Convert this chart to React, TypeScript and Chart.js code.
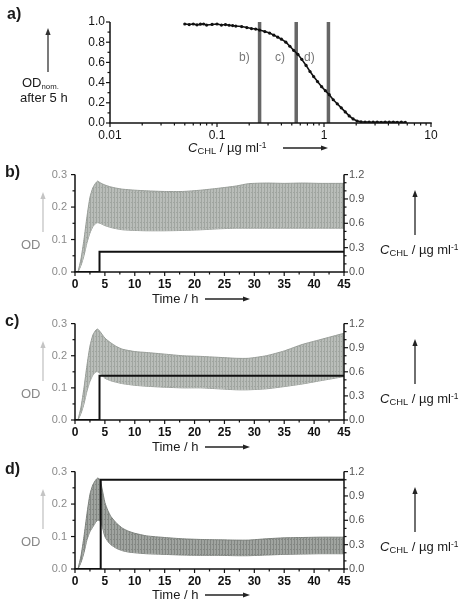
import React, { useEffect, useRef } from "react";
import { Chart, registerables } from "chart.js";
Chart.register(...registerables);

const FONT = "'Liberation Sans', Arial, sans-serif";

// ---------- Panel a data ----------
const concAxisTicks = [0.01, 0.1, 1, 10];
const concMinorTicks = [0.02, 0.03, 0.04, 0.05, 0.06, 0.07, 0.08, 0.09, 0.2, 0.3, 0.4, 0.5, 0.6, 0.7, 0.8, 0.9, 2, 3, 4, 5, 6, 7, 8, 9];
const odNormTicks = [0, 0.2, 0.4, 0.6, 0.8, 1.0];
const odNormMinor = [0.1, 0.3, 0.5, 0.7, 0.9];
const concentrations = [0.05, 0.055, 0.06, 0.065, 0.07, 0.075, 0.08, 0.09, 0.1, 0.11, 0.12, 0.13, 0.14, 0.15, 0.17, 0.19, 0.21, 0.23, 0.25, 0.28, 0.31, 0.34, 0.37, 0.4, 0.44, 0.48, 0.52, 0.57, 0.62, 0.68, 0.74, 0.8, 0.87, 0.95, 1.03, 1.12, 1.22, 1.33, 1.45, 1.58, 1.72, 1.87, 2.04, 2.22, 2.42, 2.64, 2.88, 3.14, 3.42, 3.73, 4.07, 4.44, 4.84, 5.28, 5.76];
const odNorm = [0.98, 0.975, 0.98, 0.972, 0.978, 0.98, 0.97, 0.976, 0.98, 0.97, 0.975, 0.968, 0.965, 0.96, 0.955, 0.945, 0.935, 0.93, 0.92, 0.905, 0.89, 0.87, 0.85, 0.83, 0.8, 0.76, 0.72, 0.68, 0.63, 0.57, 0.51, 0.46, 0.41, 0.36, 0.32, 0.28, 0.23, 0.19, 0.15, 0.11, 0.07, 0.04, 0.02, 0.012, 0.01, 0.01, 0.008, 0.01, 0.006, 0.01, 0.008, 0.01, 0.006, 0.008, 0.006];
const markerConcs = [0.25, 0.55, 1.1];
const markerLabels = ["b)", "c)", "d)"];

// ---------- Panels b-d data ----------
const timeTicks = [0, 5, 10, 15, 20, 25, 30, 35, 40, 45];
const timeMinor = [2.5, 7.5, 12.5, 17.5, 22.5, 27.5, 32.5, 37.5, 42.5];
const odTicks = [0, 0.1, 0.2, 0.3];
const odMinor = [0.05, 0.15, 0.25];
const chlTicks = [0, 0.3, 0.6, 0.9, 1.2];
const chlMinor = [0.1, 0.2, 0.4, 0.5, 0.7, 0.8, 1.0, 1.1];

const timesBC = [0.5, 1, 1.5, 2, 2.5, 3, 3.5, 3.8, 4.2, 5, 6, 7, 8, 10, 12, 15, 18, 21, 24, 27, 29, 32, 35, 38, 41, 45];
const odUpperB = [0, 0.04, 0.1, 0.17, 0.23, 0.26, 0.275, 0.28, 0.275, 0.268, 0.262, 0.258, 0.255, 0.252, 0.25, 0.248, 0.248, 0.252, 0.258, 0.265, 0.272, 0.274, 0.273, 0.274, 0.273, 0.273];
const odLowerB = [0, 0.02, 0.05, 0.09, 0.12, 0.14, 0.15, 0.152, 0.15, 0.143, 0.137, 0.133, 0.13, 0.128, 0.127, 0.127, 0.128, 0.13, 0.133, 0.135, 0.135, 0.135, 0.135, 0.135, 0.135, 0.135];
const odUpperC = [0, 0.04, 0.1, 0.17, 0.23, 0.265, 0.28, 0.283, 0.275, 0.255, 0.24, 0.228, 0.22, 0.213, 0.21, 0.205, 0.2, 0.198, 0.195, 0.192, 0.192, 0.2, 0.215, 0.235, 0.25, 0.27];
const odLowerC = [0, 0.02, 0.05, 0.09, 0.12, 0.14, 0.15, 0.15, 0.145, 0.13, 0.122, 0.117, 0.113, 0.108, 0.105, 0.102, 0.1, 0.1, 0.097, 0.094, 0.094, 0.097, 0.104, 0.112, 0.122, 0.135];
const timesD = [0.5, 1, 1.5, 2, 2.5, 3, 3.5, 3.8, 4.2, 4.5, 5, 5.5, 6, 7, 8, 9, 10, 12, 15, 18, 21, 24, 27, 29, 32, 35, 38, 41, 45];
const odUpperD = [0, 0.04, 0.1, 0.17, 0.23, 0.26, 0.275, 0.28, 0.275, 0.25, 0.205, 0.18, 0.162, 0.14, 0.125, 0.116, 0.11, 0.102, 0.097, 0.093, 0.091, 0.09, 0.089, 0.089, 0.093, 0.096, 0.097, 0.098, 0.098];
const odLowerD = [0, 0.02, 0.05, 0.09, 0.115, 0.13, 0.145, 0.15, 0.148, 0.135, 0.1, 0.085, 0.075, 0.063, 0.056, 0.052, 0.05, 0.047, 0.045, 0.043, 0.042, 0.042, 0.041, 0.041, 0.043, 0.045, 0.046, 0.047, 0.047];

const doseTimesB = [0, 4.1, 4.1, 45];
const doseB = [0, 0, 0.25, 0.25];
const doseTimesC = [0, 4.1, 4.1, 45];
const doseC = [0, 0, 0.55, 0.55];
const doseTimesD = [0, 4.3, 4.3, 45];
const doseD = [0, 0, 1.1, 1.1];

type TickSpec = { axis: string; side: "bottom" | "left" | "right"; major: number[]; minor: number[] };

function tickPlugin(specs: TickSpec[]) {
  return {
    id: "customTicks",
    afterDatasetsDraw(chart: any) {
      const ctx = chart.ctx;
      const ca = chart.chartArea;
      ctx.save();
      ctx.strokeStyle = "#111";
      for (const s of specs) {
        const sc = chart.scales[s.axis];
        ctx.lineWidth = 1.5;
        ctx.beginPath();
        if (s.side === "bottom") {
          ctx.moveTo(ca.left - 0.75, ca.bottom);
          ctx.lineTo(ca.right + 0.75, ca.bottom);
        } else if (s.side === "left") {
          ctx.moveTo(ca.left, ca.top);
          ctx.lineTo(ca.left, ca.bottom);
        } else {
          ctx.moveTo(ca.right, ca.top);
          ctx.lineTo(ca.right, ca.bottom);
        }
        ctx.stroke();
        ctx.lineWidth = 1.2;
        const draw = (vals: number[], len: number) => {
          for (const v of vals) {
            const p = sc.getPixelForValue(v);
            ctx.beginPath();
            if (s.side === "bottom") {
              ctx.moveTo(p, ca.bottom);
              ctx.lineTo(p, ca.bottom + len);
            } else if (s.side === "left") {
              ctx.moveTo(ca.left, p);
              ctx.lineTo(ca.left - len, p);
            } else {
              ctx.moveTo(ca.right, p);
              ctx.lineTo(ca.right + len, p);
            }
            ctx.stroke();
          }
        };
        draw(s.major, 4);
        draw(s.minor, 2.5);
      }
      ctx.restore();
    },
  };
}

function makePattern(dark: string, light: string) {
  const c = document.createElement("canvas");
  c.width = 3;
  c.height = 5;
  const g = c.getContext("2d")!;
  g.fillStyle = light;
  g.fillRect(0, 0, 3, 5);
  g.fillStyle = dark;
  g.fillRect(0, 0, 1, 5);
  g.fillRect(2, 2, 1, 1);
  return g.createPattern(c, "repeat");
}

function ChartCanvas({ top, height, build }: { top: number; height: number; build: () => any }) {
  const ref = useRef<HTMLCanvasElement>(null);
  useEffect(() => {
    const chart = new Chart(ref.current!, build());
    return () => chart.destroy();
  }, []);
  return (
    <canvas
      ref={ref}
      width={464}
      height={height}
      style={{ position: "absolute", left: 0, top, width: 464, height }}
    />
  );
}

const setTicks = (vals: number[]) => (s: any) => {
  s.ticks = vals.map((v) => ({ value: v }));
};

const noGrid = { display: false, drawTicks: false, tickLength: 0 };

function buildA() {
  return {
    type: "line",
    data: {
      datasets: [
        {
          data: concentrations.map((c, i) => ({ x: c, y: odNorm[i] })),
          borderColor: "#111",
          borderWidth: 1.6,
          pointRadius: 1.6,
          pointBackgroundColor: "#111",
          pointBorderWidth: 0,
          tension: 0,
        },
        ...markerConcs.map((c) => ({
          data: [
            { x: c, y: 0 },
            { x: c, y: 1 },
          ],
          borderColor: "#666",
          borderWidth: 3.5,
          pointRadius: 0,
        })),
      ],
    },
    options: {
      animation: false,
      responsive: false,
      devicePixelRatio: 1,
      layout: { padding: { left: 0, top: 22, right: 33, bottom: 0 } },
      plugins: { legend: { display: false }, tooltip: { enabled: false } },
      scales: {
        x: {
          type: "logarithmic",
          min: 0.01,
          max: 10,
          afterBuildTicks: setTicks(concAxisTicks),
          afterFit: (s: any) => {
            s.height = 37;
          },
          grid: noGrid,
          border: { display: false },
          ticks: {
            autoSkip: false,
            maxRotation: 0,
            padding: 5,
            color: "#111",
            font: { family: FONT, size: 12 },
            callback: (v: any) => String(v),
          },
        },
        y: {
          min: 0,
          max: 1,
          afterBuildTicks: setTicks(odNormTicks),
          afterFit: (s: any) => {
            s.width = 110;
          },
          grid: noGrid,
          border: { display: false },
          ticks: {
            padding: 5,
            color: "#111",
            font: { family: FONT, size: 12 },
            callback: (v: any) => Number(v).toFixed(1),
          },
        },
      },
    },
    plugins: [
      tickPlugin([
        { axis: "x", side: "bottom", major: concAxisTicks, minor: concMinorTicks },
        { axis: "y", side: "left", major: odNormTicks, minor: odNormMinor },
      ]),
    ],
  };
}

function buildTime(
  times: number[],
  upper: number[],
  lower: number[],
  doseT: number[],
  dose: number[],
  dark: string,
  light: string,
  edge: string
) {
  return () => ({
    type: "line",
    data: {
      datasets: [
        {
          data: doseT.map((t, i) => ({ x: t, y: dose[i] })),
          yAxisID: "y2",
          borderColor: "#111",
          borderWidth: 2,
          pointRadius: 0,
          tension: 0,
          fill: false,
        },
        {
          data: times.map((t, i) => ({ x: t, y: upper[i] })),
          yAxisID: "y",
          borderColor: edge,
          borderWidth: 1,
          pointRadius: 0,
          tension: 0.2,
          fill: "+1",
          backgroundColor: makePattern(dark, light),
        },
        {
          data: times.map((t, i) => ({ x: t, y: lower[i] })),
          yAxisID: "y",
          borderColor: edge,
          borderWidth: 1,
          pointRadius: 0,
          tension: 0.2,
          fill: false,
        },
      ],
    },
    options: {
      animation: false,
      responsive: false,
      devicePixelRatio: 1,
      layout: { padding: { left: 0, top: 12, right: 0, bottom: 0 } },
      plugins: { legend: { display: false }, tooltip: { enabled: false } },
      scales: {
        x: {
          type: "linear",
          min: 0,
          max: 45,
          afterBuildTicks: setTicks(timeTicks),
          afterFit: (s: any) => {
            s.height = 28;
          },
          grid: noGrid,
          border: { display: false },
          ticks: {
            autoSkip: false,
            maxRotation: 0,
            padding: 5,
            color: "#111",
            font: { family: FONT, size: 12, weight: "bold" },
            callback: (v: any) => String(v),
          },
        },
        y: {
          position: "left",
          min: 0,
          max: 0.3,
          afterBuildTicks: setTicks(odTicks),
          afterFit: (s: any) => {
            s.width = 75;
          },
          grid: noGrid,
          border: { display: false },
          ticks: {
            padding: 8,
            color: "#8a8a8a",
            font: { family: FONT, size: 11 },
            callback: (v: any) => Number(v).toFixed(1),
          },
        },
        y2: {
          position: "right",
          min: 0,
          max: 1.2,
          afterBuildTicks: setTicks(chlTicks),
          afterFit: (s: any) => {
            s.width = 120;
          },
          grid: noGrid,
          border: { display: false },
          ticks: {
            padding: 5,
            color: "#555",
            font: { family: FONT, size: 11 },
            callback: (v: any) => Number(v).toFixed(1),
          },
        },
      },
    },
    plugins: [
      tickPlugin([
        { axis: "x", side: "bottom", major: timeTicks, minor: timeMinor },
        { axis: "y", side: "left", major: odTicks, minor: odMinor },
        { axis: "y2", side: "right", major: chlTicks, minor: chlMinor },
      ]),
    ],
  });
}

function Txt({ x, y, size = 12, color = "#1a1a1a", children, weight = "normal" }: any) {
  return (
    <div
      style={{
        position: "absolute",
        left: x,
        top: y,
        fontFamily: FONT,
        fontSize: size,
        lineHeight: 1,
        height: size,
        color,
        whiteSpace: "nowrap",
        fontWeight: weight,
      }}
    >
      {children}
    </div>
  );
}

const subStyle: any = { fontSize: "0.72em", position: "relative", top: "0.25em" };
const subSmall: any = { fontSize: "0.6em", position: "relative", top: "0.3em" };
const supStyle: any = { fontSize: "0.65em", position: "relative", top: "-0.5em" };

function ChlTitle() {
  return (
    <>
      <i>C</i>
      <span style={subStyle}>CHL</span> / µg ml<span style={supStyle}>-1</span>
    </>
  );
}

function Arrow({ x1, y1, x2, y2, color }: any) {
  const dx = x2 - x1;
  const dy = y2 - y1;
  const len = Math.hypot(dx, dy);
  const ux = dx / len;
  const uy = dy / len;
  const hl = 7;
  const hw = 2.6;
  const bx = x2 - ux * hl;
  const by = y2 - uy * hl;
  const pts = `${x2},${y2} ${bx - uy * hw},${by + ux * hw} ${bx + uy * hw},${by - ux * hw}`;
  return (
    <g>
      <line x1={x1} y1={y1} x2={bx} y2={by} stroke={color} strokeWidth={1.3} />
      <polygon points={pts} fill={color} />
    </g>
  );
}

const panels = [
  { letter: "b)", top: 172, bottom: 272 },
  { letter: "c)", top: 321, bottom: 420 },
  { letter: "d)", top: 469, bottom: 568 },
];

export default function App() {
  return (
    <div style={{ position: "absolute", left: 0, top: 0, width: 464, height: 603, background: "#fff", overflow: "hidden" }}>
      <ChartCanvas top={0} height={160} build={buildA} />
      <ChartCanvas
        top={160}
        height={140}
        build={buildTime(timesBC, odUpperB, odLowerB, doseTimesB, doseB, "#a0a5a0", "#b9bdb9", "#979c97")}
      />
      <ChartCanvas
        top={309}
        height={139}
        build={buildTime(timesBC, odUpperC, odLowerC, doseTimesC, doseC, "#a0a5a0", "#b9bdb9", "#979c97")}
      />
      <ChartCanvas
        top={457}
        height={140}
        build={buildTime(timesD, odUpperD, odLowerD, doseTimesD, doseD, "#838783", "#a0a4a0", "#7c807c")}
      />
      <svg width={464} height={603} style={{ position: "absolute", left: 0, top: 0, pointerEvents: "none" }}>
        <Arrow x1={48} y1={72} x2={48} y2={28} color="#333" />
        <Arrow x1={283} y1={148} x2={328} y2={148} color="#222" />
        {panels.map((p) => (
          <g key={p.letter}>
            <Arrow x1={43} y1={p.top + 60} x2={43} y2={p.top + 20} color="#c4c4c4" />
            <Arrow x1={415} y1={p.top + 63} x2={415} y2={p.top + 18} color="#222" />
            <Arrow x1={205} y1={p.bottom + 27} x2={250} y2={p.bottom + 27} color="#222" />
          </g>
        ))}
      </svg>
      <Txt x={7} y={6} size={16} weight="bold">a)</Txt>
      <Txt x={22} y={76} size={13}>
        OD<span style={subSmall}>nom.</span>
      </Txt>
      <Txt x={20} y={91} size={13}>after 5 h</Txt>
      <Txt x={188} y={141} size={13}>
        <ChlTitle />
      </Txt>
      {markerLabels.map((l, i) => (
        <Txt key={l} x={[239, 275, 304][i]} y={51} size={12} color="#777">
          {l}
        </Txt>
      ))}
      {panels.map((p) => (
        <React.Fragment key={p.letter}>
          <Txt x={5} y={p.top - 8} size={16} weight="bold">{p.letter}</Txt>
          <Txt x={21} y={p.top + 66} size={13} color="#888">OD</Txt>
          <Txt x={380} y={p.top + 71} size={13}>
            <ChlTitle />
          </Txt>
          <Txt x={152} y={p.bottom + 20} size={13}>Time / h</Txt>
        </React.Fragment>
      ))}
    </div>
  );
}
